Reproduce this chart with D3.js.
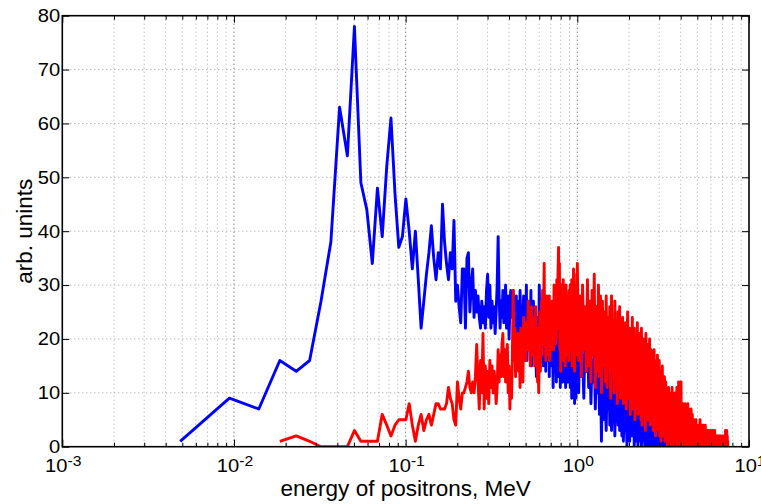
<!DOCTYPE html>
<html>
<head>
<meta charset="utf-8">
<script src="https://cdn.jsdelivr.net/npm/d3@7"></script>
<style>
  body { margin: 0; background: #fff; }
  text { font-family: "Liberation Sans", Arial, Helvetica, sans-serif; fill: #000; }
</style>
</head>
<body>
<svg id="chart" width="761" height="504"></svg>
<script>
// Histogram binning of the positron spectra (MeV)
const firstEnergy = 0.00486;   // centre of the first bin
const binWidth = 0.004545;     // fine bin width
const coarseFactor = 4;        // above 1 MeV every 4 fine bins are merged into one point

// Blue spectrum, fine bins starting at bin 0
const blueFine = [
  1, 9, 7, 16, 14, 16, 27, 38, 63, 54,
  78, 49, 44, 34, 48, 39, 52, 61, 47, 37,
  39, 46, 40, 33, 40, 31, 22, 27, 32, 36,
  41, 35, 31, 36, 33, 45, 38, 34, 31, 36,
  33, 42, 27, 30, 26, 23, 33, 33, 22, 35,
  36, 25, 30, 33, 24, 29, 25, 28, 24, 22,
  27, 23, 26, 22, 29, 32, 24, 30, 22, 27,
  23, 26, 21, 25, 30, 39, 28, 22, 27, 24,
  29, 23, 26, 30, 22, 25, 28, 20, 26, 29,
  24, 27, 29, 21, 26, 24, 28, 18, 25, 27,
  20, 29, 23, 26, 17, 24, 28, 19, 25, 22,
  30, 16, 24, 27, 18, 26, 21, 29, 15, 23,
  20, 27, 17, 25, 22, 19, 13, 24, 16, 21,
  18, 30, 22, 27, 17, 24, 20, 26, 15, 23,
  28, 18, 22, 14, 25, 19, 27, 16, 21, 24,
  13, 26, 20, 17, 23, 15, 22, 18, 11, 19,
  24, 14, 21, 17, 25, 12, 20, 16, 23, 13,
  22, 18, 15, 24, 11, 19, 21, 14, 17, 23,
  12, 20, 16, 22, 13, 18, 24, 11, 15, 21,
  17, 14, 20, 12, 23, 16, 19, 13, 22, 11,
  18, 14, 21, 9, 17, 12, 20, 10, 16, 13,
  19, 8, 15, 11, 18, 9, 14, 17, 10
];
// Blue spectrum above 1 MeV (merged bins)
const blueCoarse = [
  19, 10, 22, 13, 17, 9, 21, 14, 24, 11, 18,
  8, 16, 12, 19, 7, 15, 10, 18, 6, 14,
  1,
  13, 5, 16, 9, 3, 12, 7, 15, 4,
  11, 3, 13, 6, 9, 2, 12, 5, 10, 4, 14, 3, 8, 11, 2,
  9, 1, 7, 10, 3, 6, 0, 11, 4, 8, 1, 9, 2, 5, 7,
  2, 8, 0, 5, 3, 7, 1, 6, 0, 9, 2, 4, 1, 7, 0, 5, 3, 6, 1, 4,
  0, 3, 1, 5, 0, 2, 4, 1, 0, 6, 2, 0, 3, 1, 4, 0, 2, 5, 0, 1, 3, 0, 2, 4, 1, 0, 3, 1, 0, 2,
  1, 0, 3, 0, 2, 1, 0, 4, 0, 1, 2, 0, 3, 1, 0, 2, 0, 1, 3, 0,
  2, 0, 1, 0, 3, 1, 0, 2, 0, 1, 2, 0, 4, 0, 1, 0, 2, 1, 0, 3,
  0, 1, 2, 0, 1, 0, 3, 0, 2, 1, 0, 2, 0, 1, 3, 0, 1, 0, 2, 1,
  0, 1
];

// Red spectrum, fine bins starting at bin 3
const redFineStart = 3;
const redFine = [
  1, 2, 1, 0, 0, 0, 0,
  3, 1, 1, 1, 1, 6, 4, 2, 4, 5,
  5, 5, 8, 4, 1, 4, 6, 3, 5, 6,
  4, 6, 8, 8, 7, 7, 7, 8, 11, 9,
  8, 5, 4, 12, 9, 7, 10, 10, 11, 12,
  14, 11, 10, 12, 10, 13, 19, 12, 7, 16,
  10, 21, 7, 15, 9, 14, 8, 16, 11, 15,
  10, 14, 12, 8, 11, 18, 12, 17, 13, 19,
  21, 13, 18, 12, 16, 19, 10, 15, 7, 14,
  9, 17, 29, 16, 22, 13, 20, 15, 21, 14,
  18, 11, 22, 15, 20, 12, 24, 17, 22, 16,
  23, 18, 21, 27, 18, 25, 15, 22, 26, 17,
  24, 19, 23, 15, 21, 26, 16, 22, 12, 20,
  10, 18, 25, 14, 21, 27, 17, 29, 20, 26,
  34, 19, 27, 16, 24, 28, 18, 25, 17, 23,
  28, 16, 26, 20, 24, 18, 27, 21, 25, 18,
  30, 22, 26, 19, 28, 20, 31, 24, 29, 33,
  37, 22, 34, 18, 28, 14, 25, 30, 17, 26,
  21, 31, 16, 27, 22, 29, 15, 24, 30, 19,
  26, 17, 28, 21, 25, 16, 29, 20, 27, 30,
  18, 26, 21, 31, 15, 24, 28, 19, 33, 22,
  27, 14, 25, 30, 18, 26, 21, 32, 17
];
// Red spectrum above 1 MeV (merged bins)
const redCoarse = [
  34, 16, 28, 13, 30, 18, 26, 14, 31, 15, 27,
  12, 29, 17, 32, 11, 26, 14, 30, 13, 28,
  10, 27, 15, 25, 12, 28, 11, 24, 16, 26,
  9, 28, 13, 23, 10, 27, 15, 21, 8, 25, 12, 26, 9, 22, 14,
  24, 8, 20, 11, 23, 7, 19, 25, 9, 17, 22, 6, 21, 10, 24,
  7, 18, 22, 5, 16, 20, 9, 23, 6, 15, 21, 8, 19, 5, 22,
  4, 18, 11, 20, 6, 16, 3, 21, 8, 14, 19, 5, 17, 10, 20, 4, 15, 18, 6, 13,
  17, 3, 12, 18, 5, 15, 2, 16, 9, 4, 17, 11, 3, 14, 16,
  2, 14, 8, 1, 12, 4, 15, 6, 2, 11, 3, 13, 1, 9, 12,
  2, 10, 5, 0, 9, 3, 11, 1, 7, 10, 2, 8, 0, 9, 4, 11, 1, 6, 10, 3, 0, 9, 5, 2, 10,
  1, 8, 3, 11, 0, 6, 9, 2, 12, 1, 7, 0, 10, 4, 1, 12, 2, 8, 0, 5,
  8, 1, 6, 0, 7, 2, 4, 8, 0, 5, 1, 7, 3, 0, 6, 2, 8, 1, 4, 0,
  7, 2, 5, 0, 6, 1, 3, 7, 0, 4, 2, 6, 1, 0, 5, 3, 1, 4, 0, 5,
  4, 0, 2, 1, 5, 0, 3, 1, 0, 4, 2, 0, 1, 3, 0, 4, 1, 0, 2, 5,
  0, 1, 3, 0, 2, 4, 0, 1, 0, 3, 1, 0, 4, 2, 0, 1, 3, 0, 2, 0,
  4, 1, 0, 3, 0, 2, 1, 0, 3, 1,
  0, 2, 1, 0, 3, 0, 1, 2, 0, 1, 0, 3, 1, 0, 2, 0, 1, 0, 2, 1,
  0, 3, 0, 1, 2, 0, 1, 0, 2, 0, 1, 3, 0, 1, 0, 2, 1, 0, 2, 0,
  1, 0, 2, 1, 0, 1, 0, 2, 0, 1, 0, 2, 1, 0, 1, 0, 2, 0, 1, 0,
  1, 2, 0, 1, 0, 1, 0, 2, 0, 1, 0, 1, 2, 0, 1, 0, 1, 0, 1, 2,
  1, 0, 2, 1, 0, 3, 1, 2, 0, 1, 2, 1, 3, 0, 1, 2, 1, 0, 1, 1
];

const xTickExponents = [-3, -2, -1, 0, 1];
const yTickValues = [0, 10, 20, 30, 40, 50, 60, 70, 80];
const xLabel = "energy of positrons, MeV";
const yLabel = "arb. unints";

// ---- layout ----
const frame = { left: 62.3, right: 749, top: 15.7, bottom: 446.7 };
const svg = d3.select("#chart");
const x = d3.scaleLog().domain([1e-3, 10]).range([frame.left, frame.right]);
const y = d3.scaleLinear().domain([0, 80]).range([frame.bottom, frame.top]);

function buildSeries(start, fine, coarse) {
  const pts = fine.map((v, k) => [firstEnergy + (start + k) * binWidth, v]);
  const s = start + fine.length;
  coarse.forEach((v, j) => pts.push([firstEnergy + (s + coarseFactor * j) * binWidth, v]));
  return pts;
}
const blue = buildSeries(0, blueFine, blueCoarse);
const red = buildSeries(redFineStart, redFine, redCoarse);

svg.append("defs").append("clipPath").attr("id", "plotClip")
  .append("rect")
  .attr("x", frame.left).attr("y", frame.top - 2)
  .attr("width", frame.right - frame.left)
  .attr("height", frame.bottom - frame.top + 2);

// ---- grid ----
const majorX = xTickExponents.map(e => Math.pow(10, e));
const allX = x.ticks();
const minorX = allX.filter(v => !majorX.some(m => Math.abs(m - v) / m < 1e-6));
const grid = svg.append("g");
grid.selectAll("line.minor").data(minorX).join("line")
  .attr("x1", d => x(d)).attr("x2", d => x(d))
  .attr("y1", frame.top).attr("y2", frame.bottom)
  .attr("stroke", "#a8a8a8").attr("stroke-width", 1)
  .attr("stroke-dasharray", "1,3");
grid.selectAll("line.major").data(majorX.slice(1, -1)).join("line")
  .attr("x1", d => x(d)).attr("x2", d => x(d))
  .attr("y1", frame.top).attr("y2", frame.bottom)
  .attr("stroke", "#404040").attr("stroke-width", 1)
  .attr("stroke-dasharray", "1,3");
grid.selectAll("line.h").data(yTickValues.slice(1, -1)).join("line")
  .attr("x1", frame.left).attr("x2", frame.right)
  .attr("y1", d => y(d)).attr("y2", d => y(d))
  .attr("stroke", "#9a9a9a").attr("stroke-width", 1)
  .attr("stroke-dasharray", "1,3");

// ---- spectra ----
const line = d3.line().x(d => x(d[0])).y(d => y(d[1]));
const plot = svg.append("g").attr("clip-path", "url(#plotClip)");
plot.append("path").datum(blue).attr("d", line)
  .attr("fill", "none").attr("stroke", "#0000ff")
  .attr("stroke-width", 2.9).attr("stroke-linejoin", "round");
plot.append("path").datum(red).attr("d", line)
  .attr("fill", "none").attr("stroke", "#ff0000")
  .attr("stroke-width", 2.9).attr("stroke-linejoin", "round");

// ---- axes (inward ticks on all four sides) ----
function styleAxis(g) {
  g.select(".domain").remove();
  g.selectAll(".tick line").attr("stroke", "#000").attr("stroke-width", 1);
  g.selectAll(".tick text").remove();
}
svg.append("g").attr("transform", `translate(0,${frame.bottom})`)
  .call(d3.axisBottom(x).tickValues(majorX).tickSize(-7).tickFormat("")).call(styleAxis);
svg.append("g").attr("transform", `translate(0,${frame.bottom})`)
  .call(d3.axisBottom(x).tickValues(minorX).tickSize(-4).tickFormat("")).call(styleAxis);
svg.append("g").attr("transform", `translate(0,${frame.top})`)
  .call(d3.axisTop(x).tickValues(majorX).tickSize(-7).tickFormat("")).call(styleAxis);
svg.append("g").attr("transform", `translate(0,${frame.top})`)
  .call(d3.axisTop(x).tickValues(minorX).tickSize(-4).tickFormat("")).call(styleAxis);
svg.append("g").attr("transform", `translate(${frame.left},0)`)
  .call(d3.axisLeft(y).tickValues(yTickValues).tickSize(-7).tickFormat("")).call(styleAxis);
svg.append("g").attr("transform", `translate(${frame.right},0)`)
  .call(d3.axisRight(y).tickValues(yTickValues).tickSize(-7).tickFormat("")).call(styleAxis);

svg.append("rect")
  .attr("x", frame.left).attr("y", frame.top)
  .attr("width", frame.right - frame.left).attr("height", frame.bottom - frame.top)
  .attr("fill", "none").attr("stroke", "#000").attr("stroke-width", 1.6);

// ---- tick labels ----
const yLab = svg.append("g");
yLab.selectAll("text").data(yTickValues).join("text")
  .attr("transform", d => `translate(${frame.left - 2},${y(d) + 6.4}) scale(1.12,1)`)
  .attr("text-anchor", "end").attr("font-size", 18)
  .text(d => d);

const xLab = svg.append("g");
xTickExponents.forEach(e => {
  const t = xLab.append("text")
    .attr("transform", `translate(${x(Math.pow(10, e)) + 1},472.3) scale(1.12,1)`)
    .attr("text-anchor", "middle").attr("font-size", 18);
  t.append("tspan").text("10");
  t.append("tspan").attr("font-size", 14).attr("dy", -6.8).text(String(e));
});

// ---- axis titles ----
svg.append("text")
  .attr("x", (frame.left + frame.right) / 2).attr("y", 496)
  .attr("text-anchor", "middle").attr("font-size", 22.5)
  .text(xLabel);
svg.append("text")
  .attr("transform", `translate(32,${(frame.top + frame.bottom) / 2}) rotate(-90)`)
  .attr("text-anchor", "middle").attr("font-size", 22.5)
  .text(yLabel);
</script>
</body>
</html>
